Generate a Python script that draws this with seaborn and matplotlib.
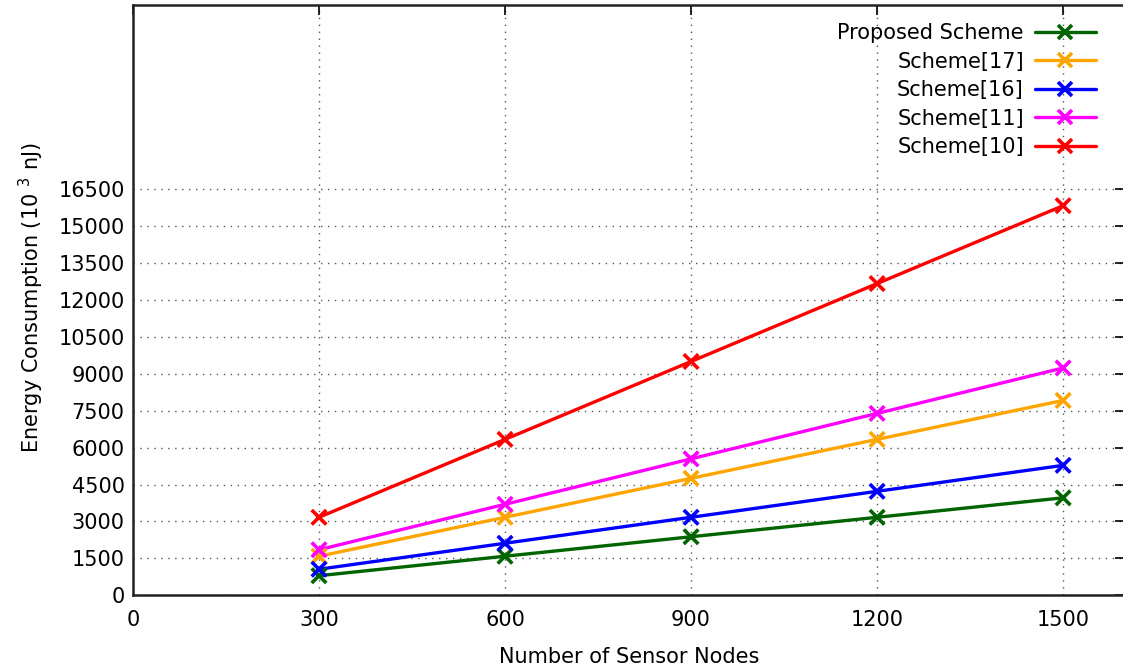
import matplotlib
matplotlib.use("Agg")
import matplotlib.pyplot as plt
import seaborn as sns
import pandas as pd
from matplotlib.lines import Line2D

nodes = [300, 600, 900, 1200, 1500]
proposed = [792, 1584, 2376, 3168, 3960]
scheme17 = [1584, 3168, 4752, 6336, 7920]
scheme16 = [1056, 2112, 3168, 4224, 5280]
scheme11 = [1848, 3696, 5544, 7392, 9240]
scheme10 = [3168, 6336, 9504, 12672, 15840]

series_names = ["Proposed Scheme", "Scheme[17]", "Scheme[16]", "Scheme[11]", "Scheme[10]"]
series_vals = [proposed, scheme17, scheme16, scheme11, scheme10]
colors = ["#006400", "#ffa500", "#0000ff", "#ff00ff", "#ff0000"]

y_ticks = list(range(0, 16501, 1500))
x_ticks = [0, 300, 600, 900, 1200, 1500]

rows = []
for name, vals in zip(series_names, series_vals):
    for n, v in zip(nodes, vals):
        rows.append({"Nodes": n, "Energy": v, "Scheme": name})
df = pd.DataFrame(rows)

sns.set_style("white")
plt.rcParams['font.family'] = ['DejaVu Sans']
plt.rcParams['text.color'] = 'black'
plt.rcParams['axes.labelcolor'] = 'black'

FS = 15

fig = plt.figure(figsize=(11.23, 6.68), dpi=100)
ax = fig.add_axes([0.1184, 0.109, 0.8835, 0.8835])

sns.lineplot(data=df, x="Nodes", y="Energy", hue="Scheme", hue_order=series_names,
             palette=colors, linewidth=2.4, ax=ax, legend=False)
sns.scatterplot(data=df, x="Nodes", y="Energy", hue="Scheme", hue_order=series_names,
                palette=colors, marker="x", s=110, linewidth=2.6, ax=ax, legend=False, zorder=5)

handles = [Line2D([0], [0], color=c, lw=2.4, marker="x", markersize=10, mew=2.6) for c in colors]
leg = ax.legend(handles, series_names, loc="upper right", bbox_to_anchor=(0.985, 0.994),
                frameon=False, markerfirst=False, fontsize=FS, handlelength=2.9,
                labelspacing=0.41, handletextpad=0.55, borderaxespad=0.3)
for t in leg.get_texts():
    t.set_color("black")

ax.set_xlim(0, 1600)
ax.set_ylim(0, 24000)
ax.set_xticks(x_ticks)
ax.set_yticks(y_ticks)
ax.set_xticklabels([str(t) for t in x_ticks], fontsize=FS)
ax.set_yticklabels([str(t) for t in y_ticks], fontsize=FS)
ax.tick_params(direction="in", length=7, width=1.2, top=True, right=True, colors="black")
ax.tick_params(axis="x", pad=11)
ax.tick_params(axis="y", pad=6)
ax.grid(True, linestyle=(0, (1, 4)), color="#555555", linewidth=1.0)
for s in ax.spines.values():
    s.set_visible(True)
    s.set_color("#222222")
    s.set_linewidth(1.8)
ax.set_xlabel("Number of Sensor Nodes", fontsize=FS, labelpad=12, color="black")
ax.set_ylabel("Energy Consumption (10 $^{3}$ nJ)", fontsize=FS, color="black")
ax.yaxis.set_label_coords(-0.088, 0.505)

fig.savefig("out.png", dpi=100)
